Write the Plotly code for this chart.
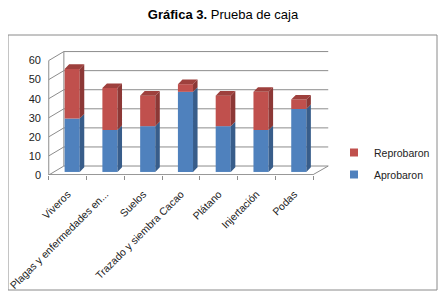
import plotly.graph_objects as go

categories = ["Viveros", "Plagas y enfermedades en...", "Suelos", "Trazado y siembra Cacao",
              "Plátano", "Injertación", "Podas"]
aprobaron = [28, 22, 24, 42, 24, 22, 33]
reprobaron = [26, 22, 16, 4, 16, 20, 5]
y_ticks = [0, 10, 20, 30, 40, 50, 60]

BLUE, BLUE_SIDE = "#4F81BD", "#385D8A"
RED, RED_SIDE, RED_TOP = "#C0504D", "#8C3836", "#9E403D"
GRID = "#8C8C8C"

# 3D-look geometry (data units)
W_DX, W_DY = 0.40, 4.7      # wall depth
BO, B0 = 0.12, 1.6          # bar position offset inside depth
BW = 0.40                   # bar front width
DDX, DDY = 0.12, 2.4        # bar depth

OFF = 8                      # page body margin
FW, FH = 446 - OFF, 298 - OFF
L, T = 48 - OFF, 51 - OFF
R = 446 - 329
B = 298 - 175
PW, PH = FW - L - R, FH - T - B

fig = go.Figure()

n = len(categories)
xs = list(range(n))

fig.add_trace(go.Bar(x=[i + BO for i in xs], y=aprobaron, base=[B0] * n, width=BW,
                     marker=dict(color=BLUE, line=dict(width=0)), showlegend=False,
                     name="Aprobaron"))
fig.add_trace(go.Bar(x=[i + BO for i in xs], y=reprobaron, base=[B0 + a for a in aprobaron],
                     width=BW, marker=dict(color=RED, line=dict(width=0)), showlegend=False,
                     name="Reprobaron"))

def side_poly(vals, bases):
    px, py = [], []
    for i, (v, b) in enumerate(zip(vals, bases)):
        x1 = i + BO + BW / 2
        px += [x1, x1 + DDX, x1 + DDX, x1, x1, None]
        py += [b, b + DDY, b + v + DDY, b + v, b, None]
    return px, py

def top_poly(tops):
    px, py = [], []
    for i, t in enumerate(tops):
        x0 = i + BO - BW / 2
        x1 = i + BO + BW / 2
        px += [x0, x0 + DDX, x1 + DDX, x1, x0, None]
        py += [t, t + DDY, t + DDY, t, t, None]
    return px, py

sx, sy = side_poly(aprobaron, [B0] * n)
fig.add_trace(go.Scatter(x=sx, y=sy, fill="toself", fillcolor=BLUE_SIDE, mode="lines",
                         line=dict(width=0, color=BLUE_SIDE), showlegend=False, hoverinfo="skip"))
sx, sy = side_poly(reprobaron, [B0 + a for a in aprobaron])
fig.add_trace(go.Scatter(x=sx, y=sy, fill="toself", fillcolor=RED_SIDE, mode="lines",
                         line=dict(width=0, color=RED_SIDE), showlegend=False, hoverinfo="skip"))
tx, ty = top_poly([B0 + a + r for a, r in zip(aprobaron, reprobaron)])
fig.add_trace(go.Scatter(x=tx, y=ty, fill="toself", fillcolor=RED_TOP, mode="lines",
                         line=dict(width=0, color=RED_TOP), showlegend=False, hoverinfo="skip"))

fig.add_trace(go.Scatter(x=[None], y=[None], mode="markers", name="Reprobaron", legendgroup="r",
                         marker=dict(symbol="square", size=8, color=RED)))
fig.add_trace(go.Scatter(x=[None], y=[None], mode="markers", name="Aprobaron", legendgroup="a",
                         marker=dict(symbol="square", size=8, color=BLUE)))

xl, xr = -0.5, n - 0.5
shapes = []
for t in y_ticks:
    shapes.append(dict(type="path", xref="x", yref="y", layer="below",
                       path=f"M {xl},{t} L {xl + W_DX},{t + W_DY} L {xr + W_DX},{t + W_DY}",
                       line=dict(color=GRID, width=1)))
shapes.append(dict(type="line", xref="x", yref="y", layer="below", x0=xl, x1=xl, y0=0, y1=y_ticks[-1],
                   line=dict(color=GRID, width=1)))
shapes.append(dict(type="line", xref="x", yref="y", layer="below", x0=xl + W_DX, x1=xl + W_DX,
                   y0=W_DY, y1=y_ticks[-1] + W_DY, line=dict(color=GRID, width=1)))
shapes.append(dict(type="line", xref="x", yref="y", layer="below", x0=xl, x1=xr, y0=0.2, y1=0.2,
                   line=dict(color=GRID, width=1)))
shapes.append(dict(type="line", xref="x", yref="y", layer="below", x0=xr, x1=xr + W_DX, y0=0.2, y1=W_DY,
                   line=dict(color=GRID, width=1)))
shapes.append(dict(type="rect", xref="paper", yref="paper",
                   x0=(8 - 48) / PW, x1=(437 - 48) / PW, y0=(175 - 290) / PH, y1=(175 - 35) / PH,
                   line=dict(color="#8A8A8A", width=1), layer="below"))

FONT = "Liberation Sans, Arial, sans-serif"
fig.update_layout(
    width=FW, height=FH,
    margin=dict(l=L, r=R, t=T, b=B, autoexpand=False),
    paper_bgcolor="white", plot_bgcolor="white",
    barmode="overlay",
    title=dict(text="<b>Gráfica 3.</b> Prueba de caja", x=(223 - OFF) / FW, xref="container",
               xanchor="center", y=1 - 6 / FH, yref="container", yanchor="middle",
               font=dict(family=FONT, size=13, color="#000")),
    font=dict(family=FONT, size=11, color="#222"),
    xaxis=dict(range=[xl - 0.02, xr + W_DX + 0.02], tickmode="array", tickvals=xs, ticktext=categories,
               tickangle=-45, showgrid=False, zeroline=False, showline=False, automargin=False,
               ticks="outside", ticklen=8, tickcolor="rgba(0,0,0,0)",
               ticklabeloverflow="allow", tickfont=dict(size=10.5),
               minor=dict(tickmode="array", tickvals=[i - 0.5 for i in range(n + 1)],
                          ticks="outside", ticklen=4, tickcolor=GRID, showgrid=False),
               fixedrange=True),
    yaxis=dict(range=[0, 65], tickmode="array", tickvals=y_ticks, showgrid=False, zeroline=False,
               showline=False, automargin=False, ticks="", ticklabelstandoff=6,
               tickfont=dict(size=11), fixedrange=True),
    legend=dict(x=(334 - 48) / PW, y=(175 - 138) / PH, xanchor="left", yanchor="top",
                font=dict(size=10.5, color="#222"), bgcolor="rgba(0,0,0,0)", itemwidth=30,
                traceorder="grouped", tracegroupgap=3),
    shapes=shapes,
    hovermode=False,
)

fig.write_html("out.html")
